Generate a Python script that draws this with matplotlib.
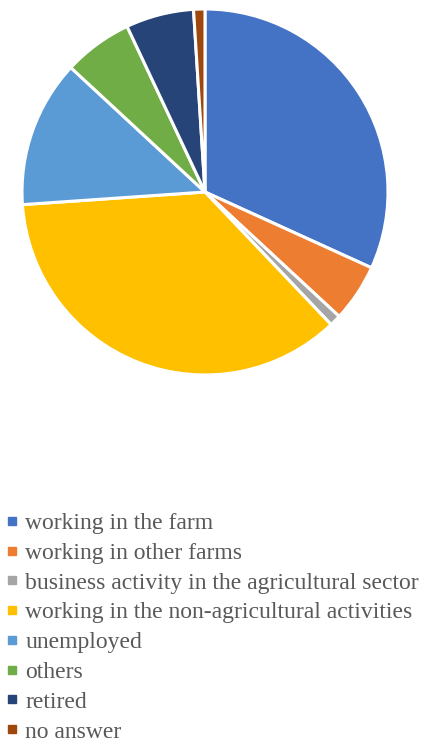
import matplotlib
matplotlib.use("Agg")
import matplotlib.pyplot as plt
from matplotlib.lines import Line2D

categories = ["working in the farm", "working in other farms",
              "business activity in the agricultural sector",
              "working in the non-agricultural activities",
              "unemployed", "others", "retired", "no answer"]
values = [31.8, 5.1, 1.0, 36.0, 13.0, 6.1, 6.0, 1.0]
colors = ["#4472C4", "#ED7D31", "#A5A5A5", "#FFC000",
          "#5B9BD5", "#70AD47", "#264478", "#9E480E"]

fig = plt.figure(figsize=(4.25, 7.47), dpi=100)
W, H = 425, 747
cx, cy, r = 205, 192, 183
ax = fig.add_axes([(cx - r) / W, 1 - (cy + r) / H, 2 * r / W, 2 * r / H])
ax.pie(values, colors=colors, startangle=90, counterclock=False,
       wedgeprops=dict(edgecolor="white", linewidth=2.2))
ax.set_aspect("equal")
ax.set_xlim(-1, 1)
ax.set_ylim(-1, 1)

handles = [Line2D([0], [0], marker="s", linestyle="none", markersize=5.5,
                  markerfacecolor=c, markeredgecolor=c) for c in colors]
fig.legend(handles, categories, loc="upper left",
           bbox_to_anchor=(-3 / W, 1 - 503 / H), frameon=False,
           prop={"family": "Liberation Serif", "size": 17.0},
           labelcolor="#595959", handlelength=0.5, handletextpad=0.3,
           labelspacing=0.35, borderaxespad=0)

fig.savefig("out.png", dpi=100)
